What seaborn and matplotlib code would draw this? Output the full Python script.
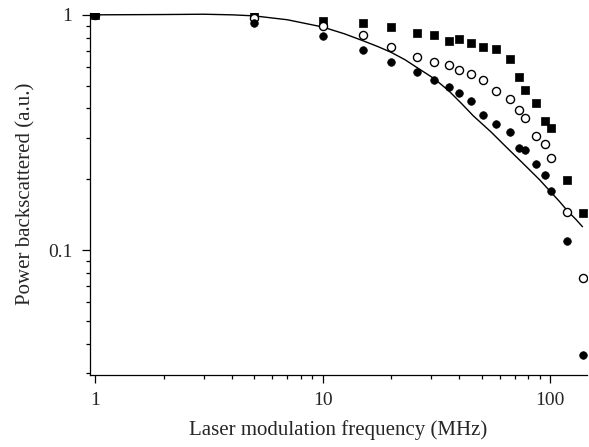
import numpy as np
import pandas as pd
import matplotlib
matplotlib.use("Agg")
import matplotlib.pyplot as plt
import matplotlib.ticker as mticker
import seaborn as sns

# ---- data ----
freq = [1, 5, 10, 15, 20, 26, 31, 36, 40, 45, 51, 58, 67, 73, 78, 87, 95, 101, 119, 140]
squares = [1.0, 0.995, 0.946, 0.922, 0.887, 0.836, 0.820, 0.777, 0.788, 0.757,
           0.733, 0.715, 0.648, 0.543, 0.478, 0.421, 0.353, 0.330, 0.198, 0.1436]
open_circles = [1.0, 0.968, 0.895, 0.820, 0.733, 0.661, 0.633, 0.611, 0.580, 0.560,
                0.527, 0.476, 0.439, 0.394, 0.365, 0.306, 0.282, 0.246, 0.145, 0.0762]
filled_circles = [1.0, 0.922, 0.809, 0.710, 0.629, 0.574, 0.527, 0.492, 0.463, 0.432,
                  0.374, 0.343, 0.319, 0.271, 0.265, 0.231, 0.208, 0.178, 0.109, 0.0356]

curve_freq = [1, 2, 3, 4, 5, 7, 10, 12.5, 15, 17.5, 20, 23, 26, 31, 36, 41, 46,
              55, 64.5, 77, 90, 100, 110, 120, 130, 139]
curve_val = [1.0, 1.003, 1.006, 1.0, 0.99, 0.953, 0.888, 0.83, 0.777, 0.733,
             0.693, 0.645, 0.597, 0.535, 0.474, 0.418, 0.372,
             0.318, 0.273, 0.231, 0.199, 0.178, 0.161, 0.146, 0.135, 0.1256]

xlabel = "Laser modulation frequency (MHz)"
ylabel = "Power backscattered (a.u.)"

# ---- style ----
sns.set_style("ticks")
plt.rcParams["font.family"] = ["Liberation Serif", "DejaVu Serif"]
plt.rcParams["font.size"] = 14

fig = plt.figure(figsize=(5.89, 4.47), dpi=100)
ax = fig.add_axes([0.152, 0.161, 0.844, 0.811])

df_sq = pd.DataFrame({"f": freq, "p": squares})
df_oc = pd.DataFrame({"f": freq, "p": open_circles})
df_fc = pd.DataFrame({"f": freq, "p": filled_circles})
df_curve = pd.DataFrame({"f": curve_freq, "p": curve_val})

sns.lineplot(data=df_curve, x="f", y="p", ax=ax, color="black", linewidth=1.0,
             sort=True, estimator=None)
sns.scatterplot(data=df_sq, x="f", y="p", ax=ax, marker="s", s=26,
                color="black", edgecolor="black", linewidth=0.5, zorder=3)
sns.scatterplot(data=df_oc, x="f", y="p", ax=ax, marker="o", s=34,
                facecolor="white", edgecolor="black", linewidth=1.0, zorder=4)
sns.scatterplot(data=df_fc, x="f", y="p", ax=ax, marker="o", s=30,
                color="black", edgecolor="black", linewidth=0.5, zorder=5)

ax.set_xscale("log")
ax.set_yscale("log")
ax.set_xlim(0.944, 145)
ax.set_ylim(0.0294, 1.023)

ax.xaxis.set_major_locator(mticker.FixedLocator([1, 10, 100]))
ax.xaxis.set_major_formatter(mticker.FixedFormatter(["1", "10", "100"]))
ax.xaxis.set_minor_locator(mticker.LogLocator(base=10, subs=np.arange(2, 10)))
ax.xaxis.set_minor_formatter(mticker.NullFormatter())
ax.yaxis.set_major_locator(mticker.FixedLocator([0.1, 1]))
ax.yaxis.set_major_formatter(mticker.FixedFormatter(["0.1", "1"]))
ax.yaxis.set_minor_locator(mticker.LogLocator(base=10, subs=np.arange(2, 10)))
ax.yaxis.set_minor_formatter(mticker.NullFormatter())

ax.tick_params(which="major", length=5.5, width=0.9, color="black", labelsize=14)
ax.tick_params(axis="x", which="major", pad=7)
ax.tick_params(axis="y", which="major", pad=7)
ax.tick_params(which="minor", length=3.2, width=0.9, color="black")

sns.despine(ax=ax)
for sp in ("left", "bottom"):
    ax.spines[sp].set_linewidth(0.9)
    ax.spines[sp].set_color("black")

ax.set_xlabel(xlabel, fontsize=15, labelpad=8)
ax.set_ylabel(ylabel, fontsize=15, labelpad=9)

fig.savefig("out.png", dpi=100)
